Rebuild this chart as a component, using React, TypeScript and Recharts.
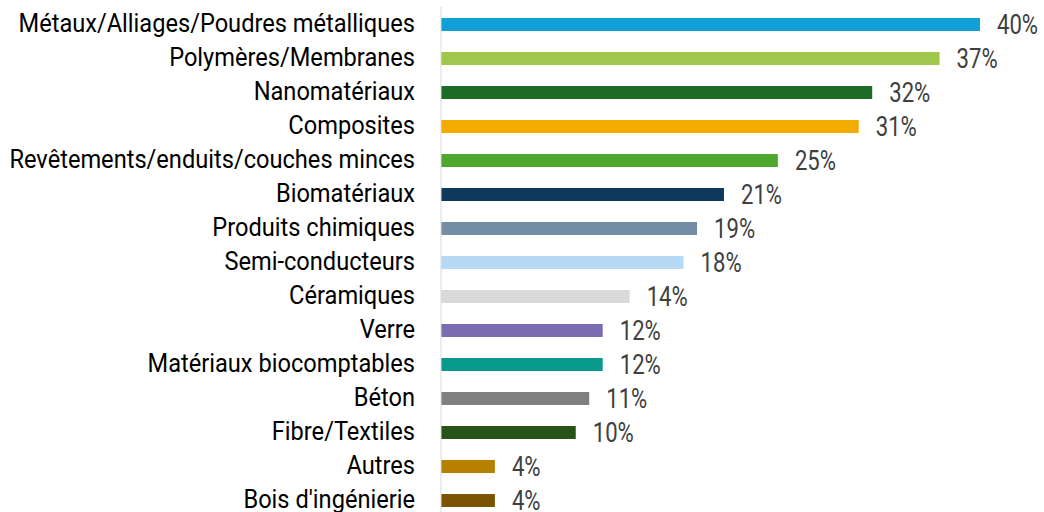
import { Bar, BarChart, Cell, LabelList, XAxis, YAxis } from "recharts";

const categories = [
  "Métaux/Alliages/Poudres métalliques",
  "Polymères/Membranes",
  "Nanomatériaux",
  "Composites",
  "Revêtements/enduits/couches minces",
  "Biomatériaux",
  "Produits chimiques",
  "Semi-conducteurs",
  "Céramiques",
  "Verre",
  "Matériaux biocomptables",
  "Béton",
  "Fibre/Textiles",
  "Autres",
  "Bois d'ingénierie",
];

const shares = [40, 37, 32, 31, 25, 21, 19, 18, 14, 12, 12, 11, 10, 4, 4];

const barColors = [
  "#119FD8",
  "#A1C64C",
  "#1C6B26",
  "#F2AB00",
  "#4FA72F",
  "#0D3A5C",
  "#728DA4",
  "#B6DAF5",
  "#D9D9D9",
  "#7B6BB0",
  "#08998C",
  "#808080",
  "#275218",
  "#B78000",
  "#7A5400",
];

const rows = categories.map((name, i) => ({ name, share: shares[i] }));

const FONT = "Roboto, 'Liberation Sans', sans-serif";

// condensed look: Roboto squeezed horizontally
function CategoryTick(props: any): React.JSX.Element {
  const { x, y, payload } = props;
  return (
    <text
      transform={`translate(${x},${y}) scale(0.945,1)`}
      textAnchor="end"
      dy={7.8}
      fontSize={25}
      fontFamily={FONT}
      fill="#000000"
    >
      {payload.value}
    </text>
  );
}

function ShareLabel(props: any): React.JSX.Element {
  const { x, y, width, height, value } = props;
  return (
    <text
      transform={`translate(${x + width + 17},${y + height / 2 + 9.8}) scale(0.82,1)`}
      fontSize={27}
      fontFamily={FONT}
      fill="#404040"
    >
      {`${value}%`}
    </text>
  );
}

export default function App(): React.JSX.Element {
  return (
    <div
      style={{
        position: "fixed",
        top: 0,
        left: 0,
        width: 1044,
        height: 512,
        overflow: "hidden",
        background: "#ffffff",
      }}
    >
      <BarChart
        width={1044}
        height={520}
        data={rows}
        layout="vertical"
        margin={{ top: 7, right: 64, bottom: 3, left: 0 }}
      >
        <XAxis type="number" domain={[0, 40]} hide />
        <YAxis
          type="category"
          dataKey="name"
          width={441}
          axisLine={{ stroke: "#D9D9D9", strokeWidth: 1 }}
          tickLine={false}
          tickSize={0}
          tickMargin={26}
          interval={0}
          tick={<CategoryTick />}
        />
        <Bar dataKey="share" barSize={13} isAnimationActive={false}>
          {rows.map((r, i) => (
            <Cell key={r.name} fill={barColors[i]} />
          ))}
          <LabelList dataKey="share" content={<ShareLabel />} />
        </Bar>
      </BarChart>
    </div>
  );
}
